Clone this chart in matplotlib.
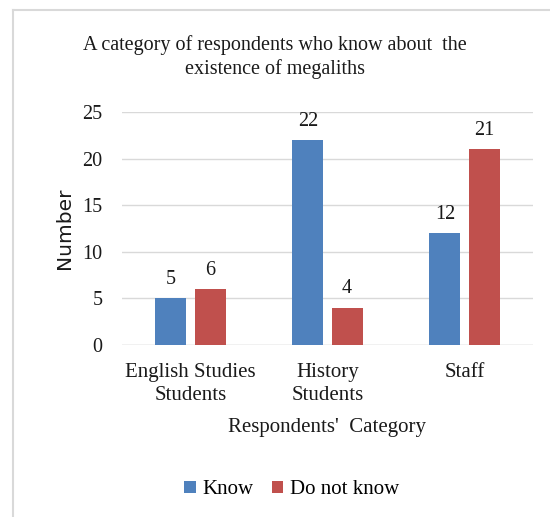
import matplotlib.pyplot as plt
import numpy as np
from matplotlib.lines import Line2D

categories = ['English Studies\nStudents', 'History\nStudents', 'Staff']
know = [5, 22, 12]
not_know = [6, 4, 21]
series_names = ['Know', 'Do not know']
colors = ['#4F81BD', '#C0504D']
y_ticks = [0, 5, 10, 15, 20, 25]

plt.rcParams['font.family'] = ['Liberation Serif', 'DejaVu Serif']

fig = plt.figure(figsize=(5.5, 5.17), dpi=100)
W, H = 550, 517
ax = fig.add_axes([122 / W, 1 - 345 / H, (533 - 122) / W, (345 - 112) / H])

# outer chart border (light gray, left and top visible)
fig.add_artist(Line2D([13 / W, 13 / W], [0, 1 - 10 / H], color='#d9d9d9', lw=1.5))
fig.add_artist(Line2D([13 / W, 1], [1 - 10 / H, 1 - 10 / H], color='#d9d9d9', lw=1.5))

x = np.arange(len(categories))
w = 0.226
off = 0.143
b1 = ax.bar(x - off, know, w, color=colors[0], label=series_names[0], zorder=3)
b2 = ax.bar(x + off, not_know, w, color=colors[1], label=series_names[1], zorder=3)

for bars in (b1, b2):
    for r in bars:
        ax.text(r.get_x() + r.get_width() / 2, r.get_height() + 1.0, str(int(r.get_height())),
                ha='center', va='bottom', fontsize=14.5, color='#1a1a1a')

ax.set_xlim(-0.5, 2.5)
ax.set_ylim(0, 25)
ax.set_yticks(y_ticks)
ax.set_yticklabels([str(t) for t in y_ticks], fontsize=14.5, color='#1a1a1a')
ax.set_xticks(x)
ax.set_xticklabels(categories, fontsize=15, color='#1a1a1a', linespacing=1.25)
ax.tick_params(length=0)
ax.tick_params(axis='y', pad=14)
ax.tick_params(axis='x', pad=13)
ax.grid(axis='y', color='#d9d9d9', lw=1, zorder=0)
for s in ax.spines.values():
    s.set_visible(False)
ax.axhline(0, color='#d9d9d9', lw=1, zorder=2)

ax.set_ylabel('Number', fontsize=14.5, family='DejaVu Sans', labelpad=6, color='#1a1a1a')
ax.set_xlabel("Respondents'  Category", fontsize=15, labelpad=10, color='#1a1a1a')

fig.text(0.5, 1 - 57 / H, 'A category of respondents who know about  the\nexistence of megaliths',
         ha='center', va='center', fontsize=14.5, color='#1a1a1a', linespacing=1.25)

fig.legend(handles=[b1, b2], loc='center', bbox_to_anchor=(0.53, 1 - 490 / H), ncol=2,
           frameon=False, fontsize=15, handlelength=0.55, handleheight=0.55,
           handletextpad=0.3, columnspacing=0.9)

fig.savefig('out.png', dpi=100)
